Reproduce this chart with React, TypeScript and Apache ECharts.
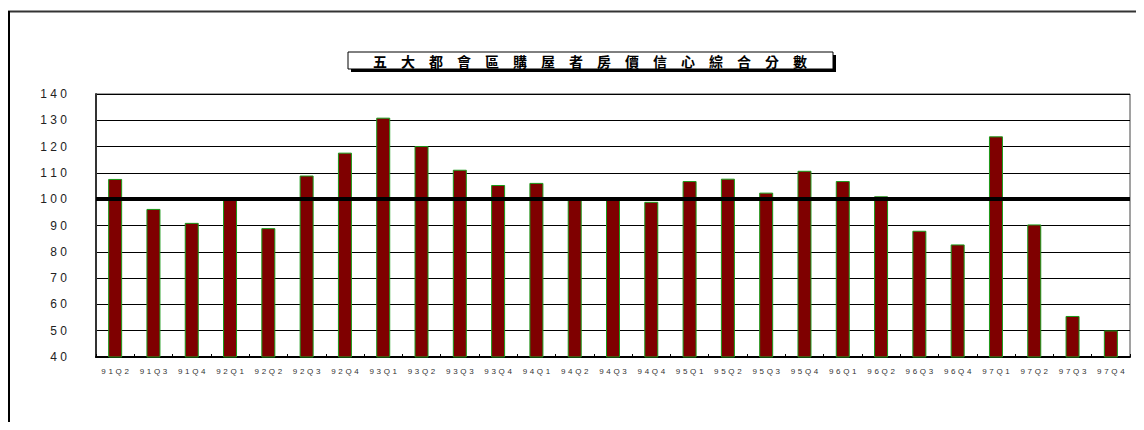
import React, { useEffect, useRef } from "react";
import * as echarts from "echarts";

const categories = [
  "91Q2", "91Q3", "91Q4", "92Q1", "92Q2", "92Q3", "92Q4", "93Q1", "93Q2",
  "93Q3", "93Q4", "94Q1", "94Q2", "94Q3", "94Q4", "95Q1", "95Q2", "95Q3",
  "95Q4", "96Q1", "96Q2", "96Q3", "96Q4", "97Q1", "97Q2", "97Q3", "97Q4",
];
const scores = [
  107.7, 96.3, 91.0, 99.7, 89.0, 109.0, 117.7, 131.0, 120.2,
  111.2, 105.4, 106.2, 99.8, 99.8, 99.0, 106.9, 107.8, 102.5,
  110.8, 106.9, 101.1, 88.0, 82.8, 123.9, 90.4, 55.6, 50.1,
];
const baseline = 100;
const titleText = "五大都會區購屋者房價信心綜合分數";
const yMin = 40;
const yMax = 140;
const yStep = 10;

const spaced = (s: string, sep: string) => s.split("").join(sep);

export default function App() {
  const ref = useRef<HTMLDivElement>(null);
  useEffect(() => {
    if (!ref.current) return;
    const chart = echarts.init(ref.current, undefined, { renderer: "svg" });
    chart.setOption({
      animation: false,
      backgroundColor: "#ffffff",
      grid: {
        left: 88,
        right: 14,
        top: 86,
        bottom: 65,
        show: true,
        borderColor: "#444",
        borderWidth: 1,
        backgroundColor: "transparent",
      },
      graphic: [
        {
          type: "line",
          shape: { x1: 0, y1: 3.5, x2: 1136, y2: 3.5 },
          style: { stroke: "#333", lineWidth: 2 },
          silent: true,
        },
        {
          type: "line",
          shape: { x1: 1, y1: 3, x2: 1, y2: 414 },
          style: { stroke: "#000", lineWidth: 2 },
          silent: true,
        },
        {
          type: "rect",
          shape: { x: 343, y: 47, width: 485, height: 17 },
          style: { fill: "#000" },
          z: 10,
        },
        {
          type: "rect",
          shape: { x: 340, y: 44, width: 485, height: 17 },
          style: { fill: "#fff", stroke: "#000", lineWidth: 1 },
          z: 11,
        },
        {
          type: "text",
          x: 582,
          y: 53,
          z: 12,
          style: {
            text: titleText.split("").join("\u3000"),
            fontSize: 14,
            fontWeight: "bold",
            fontFamily: "Noto Sans CJK TC",
            fill: "#000",
            align: "center",
            verticalAlign: "middle",
          },
        },
      ],
      xAxis: {
        type: "category",
        data: categories,
        boundaryGap: true,
        axisLine: { show: true, lineStyle: { color: "#000", width: 2 } },
        axisTick: { show: true, inside: true, length: 3, lineStyle: { color: "#000" } },
        axisLabel: {
          fontSize: 8,
          color: "#333",
          fontFamily: "Liberation Sans",
          margin: 10,
          interval: 0,
          formatter: (v: string) => spaced(v, "\u2004"),
        },
        splitLine: { show: false },
      },
      yAxis: {
        type: "value",
        min: yMin,
        max: yMax,
        interval: yStep,
        axisLine: { show: true, lineStyle: { color: "#333", width: 2 } },
        axisTick: { show: false },
        axisLabel: {
          fontSize: 12,
          color: "#222",
          fontFamily: "Liberation Sans",
          margin: 29,
          formatter: (v: number) => spaced(String(v), " "),
        },
        splitLine: { show: true, lineStyle: { color: "#000", width: 1 } },
      },
      series: [
        {
          type: "bar",
          data: scores,
          barWidth: 14,
          itemStyle: { color: "#7f0000", borderColor: "#1a9a1a", borderWidth: 1 },
          markLine: {
            silent: true,
            symbol: ["none", "none"],
            label: { show: false },
            lineStyle: { color: "#000", width: 4, type: "solid" },
            data: [{ yAxis: baseline }],
            z: 5,
          },
        },
      ],
    });
    return () => chart.dispose();
  }, []);
  return <div ref={ref} style={{ width: 1136, height: 414 }} />;
}
